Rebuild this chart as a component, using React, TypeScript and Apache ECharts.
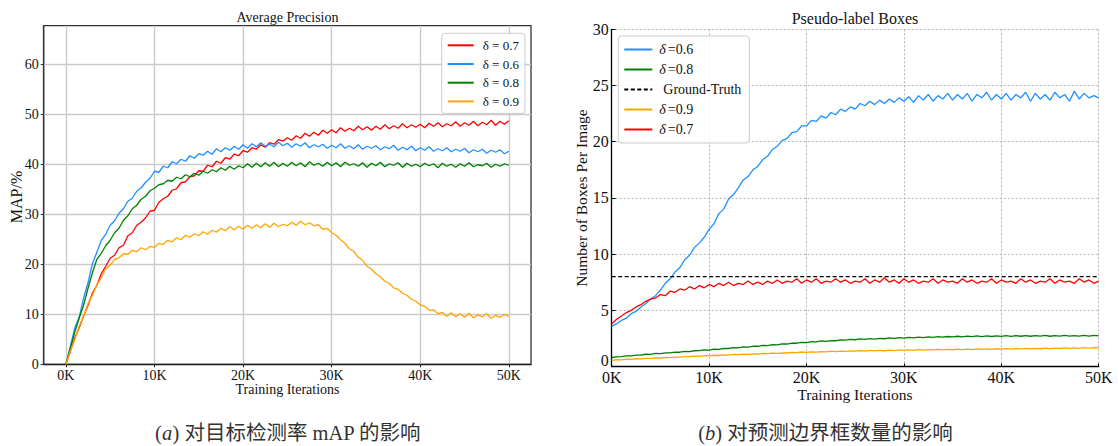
import { useEffect, useRef } from 'react';
import * as echarts from 'echarts';

// Training iterations (thousands)
const ITER = [
  0, 0.5, 1, 1.5, 2, 2.5, 3, 3.5, 4, 4.5,
  5, 5.5, 6, 6.5, 7, 7.5, 8, 8.5, 9, 9.5,
  10, 10.5, 11, 11.5, 12, 12.5, 13, 13.5, 14, 14.5,
  15, 15.5, 16, 16.5, 17, 17.5, 18, 18.5, 19, 19.5,
  20, 20.5, 21, 21.5, 22, 22.5, 23, 23.5, 24, 24.5,
  25, 25.5, 26, 26.5, 27, 27.5, 28, 28.5, 29, 29.5,
  30, 30.5, 31, 31.5, 32, 32.5, 33, 33.5, 34, 34.5,
  35, 35.5, 36, 36.5, 37, 37.5, 38, 38.5, 39, 39.5,
  40, 40.5, 41, 41.5, 42, 42.5, 43, 43.5, 44, 44.5,
  45, 45.5, 46, 46.5, 47, 47.5, 48, 48.5, 49, 49.5,
  50,
];

// (a) Average precision (MAP %)
const AP_07 = [
  0, 2.5, 5.2, 7.3, 9.6, 11.8, 14.2, 15.8, 18.1, 19.6,
  21.2, 21.8, 23.3, 23.8, 25.7, 26.3, 27.8, 28.4, 29.3, 30.6,
  30.8, 32.4, 33.1, 33.6, 34.8, 35.1, 36.3, 36.5, 37.5, 37.7,
  38.7, 38.6, 39.8, 39.5, 40.6, 40.2, 41.3, 41.0, 42.0, 41.7,
  42.7, 42.4, 43.3, 43.0, 43.9, 43.4, 44.3, 44.0, 44.9, 44.6,
  45.3, 44.8, 45.7, 45.2, 46.2, 45.6, 46.4, 45.8, 46.8, 46.2,
  46.9, 46.3, 47.3, 46.6, 47.2, 46.7, 47.6, 46.9, 47.5, 46.8,
  47.6, 47.0, 47.9, 47.1, 47.7, 47.2, 48.1, 47.3, 47.9, 47.4,
  48.0, 47.3, 48.2, 47.6, 48.3, 47.5, 48.1, 47.7, 48.5, 47.6,
  48.3, 47.8, 48.6, 47.7, 48.4, 47.9, 48.8, 47.8, 48.6, 48.0,
  48.7,
];
const AP_06 = [
  0, 3.6, 7.2, 9.4, 13.2, 16.3, 20.1, 22.4, 24.8, 26.0,
  27.8, 28.7, 30.2, 31.1, 32.6, 33.2, 34.6, 35.3, 36.4, 37.2,
  38.6, 38.4, 39.6, 39.3, 40.5, 40.1, 41.0, 40.6, 41.7, 41.2,
  42.1, 41.8, 42.6, 42.0, 43.1, 42.5, 43.3, 42.8, 43.6, 43.0,
  43.9, 43.2, 44.1, 43.5, 44.3, 43.6, 44.0, 43.5, 44.4, 43.7,
  44.2, 43.4, 44.1, 43.6, 44.3, 43.3, 43.9, 43.5, 44.0, 43.2,
  43.8, 43.3, 44.1, 43.2, 43.7, 43.1, 43.9, 43.0, 43.6, 43.2,
  43.7, 42.9, 43.5, 43.1, 43.8, 42.8, 43.4, 42.9, 43.6, 42.7,
  43.3, 42.8, 43.5, 42.6, 43.1, 42.7, 43.3, 42.5, 43.0, 42.6,
  43.2, 42.3, 42.9, 42.5, 43.0, 42.2, 42.8, 42.4, 42.9, 42.1,
  42.6,
];
const AP_08 = [
  0, 3.1, 6.4, 9.2, 11.8, 15.2, 18.3, 21.0, 22.2, 23.7,
  24.8, 26.3, 27.2, 28.8, 29.7, 31.1, 31.8, 33.0, 33.6, 34.7,
  35.2, 35.9, 36.1, 36.8, 36.6, 37.4, 37.1, 37.9, 37.5, 38.2,
  37.8, 38.6, 38.2, 38.9, 38.5, 39.3, 38.8, 39.6, 39.0, 39.7,
  39.3, 40.1, 39.4, 40.2, 39.5, 40.3, 39.6, 40.4, 39.5, 40.2,
  39.6, 40.4, 39.7, 40.3, 39.5, 40.5, 39.8, 40.2, 39.6, 40.4,
  39.7, 40.3, 39.5, 40.4, 39.8, 40.1, 39.6, 40.3, 39.4, 40.2,
  39.7, 40.4, 39.5, 40.1, 39.8, 40.3, 39.4, 40.2, 39.6, 40.0,
  39.5, 40.2, 39.7, 40.1, 39.3, 40.2, 39.6, 40.0, 39.4, 40.1,
  39.6, 40.3, 39.5, 39.9, 39.7, 40.2, 39.4, 40.0, 39.6, 40.1,
  39.8,
];
const AP_09 = [
  0, 2.6, 4.9, 7.6, 9.6, 12.1, 13.8, 15.9, 17.3, 19.1,
  19.8, 21.0, 21.3, 22.1, 22.0, 22.8, 22.5, 23.3, 22.9, 23.6,
  23.4, 24.2, 24.0, 24.8, 24.5, 25.3, 24.9, 25.8, 25.4, 26.1,
  25.7, 26.5, 26.0, 26.8, 26.4, 27.2, 26.7, 27.5, 26.9, 27.6,
  27.0, 27.8, 27.2, 27.9, 27.3, 28.1, 27.4, 28.2, 27.5, 28.0,
  27.7, 28.4, 27.8, 28.6, 27.9, 28.3, 27.7, 27.9, 27.0, 27.2,
  26.3, 25.8, 24.9, 24.2, 23.1, 22.6, 21.4, 20.8, 19.6, 19.0,
  18.1, 17.5, 16.6, 16.2, 15.3, 15.0, 14.2, 13.8, 13.0, 12.6,
  11.9, 11.6, 10.8, 10.9, 10.1, 10.4, 9.6, 10.3, 9.5, 10.1,
  9.4, 10.2, 9.3, 9.9, 9.5, 10.1, 9.2, 9.8, 9.4, 10.0,
  9.6,
];

// (b) Pseudo-label boxes per image
const BOX_06 = [
  3.6, 3.8, 4.1, 4.3, 4.7, 4.9, 5.3, 5.6, 6.0, 6.3,
  6.8, 7.4, 7.8, 8.4, 8.8, 9.5, 9.9, 10.6, 11.0, 11.5,
  12.2, 12.7, 13.6, 14.0, 14.9, 15.3, 15.9, 16.6, 16.9, 17.5,
  17.8, 18.4, 18.7, 19.3, 19.6, 20.1, 20.3, 20.8, 20.9, 21.4,
  21.4, 21.9, 21.8, 22.3, 22.1, 22.6, 22.4, 22.9, 22.7, 23.1,
  22.9, 23.4, 23.2, 23.6, 23.3, 23.7, 23.4, 23.8, 23.5, 23.9,
  23.6, 24.0, 23.5, 24.1, 23.7, 24.2, 23.6, 24.1, 23.8, 24.3,
  23.7, 24.2, 23.8, 24.3, 23.6, 24.2, 23.9, 24.4, 23.7, 24.2,
  23.8, 24.3, 23.7, 24.2, 23.9, 24.4, 23.6, 24.3, 23.8, 24.2,
  23.7, 24.4, 23.9, 24.2, 23.6, 24.5, 23.8, 24.3, 23.9, 24.1,
  23.9,
];
const BOX_08 = [
  0.80, 0.86, 0.87, 0.94, 0.95, 1.02, 1.01, 1.09, 1.08, 1.16,
  1.14, 1.22, 1.21, 1.28, 1.27, 1.34, 1.33, 1.40, 1.41, 1.47,
  1.46, 1.54, 1.53, 1.60, 1.60, 1.67, 1.66, 1.74, 1.73, 1.80,
  1.80, 1.87, 1.86, 1.94, 1.93, 2.01, 2.00, 2.08, 2.07, 2.15,
  2.13, 2.21, 2.19, 2.27, 2.24, 2.31, 2.29, 2.37, 2.34, 2.41,
  2.38, 2.45, 2.41, 2.48, 2.44, 2.51, 2.47, 2.54, 2.50, 2.57,
  2.53, 2.59, 2.55, 2.61, 2.57, 2.64, 2.59, 2.65, 2.61, 2.67,
  2.63, 2.69, 2.64, 2.70, 2.65, 2.72, 2.66, 2.72, 2.67, 2.73,
  2.68, 2.74, 2.68, 2.74, 2.69, 2.75, 2.69, 2.74, 2.70, 2.76,
  2.69, 2.75, 2.70, 2.76, 2.70, 2.75, 2.71, 2.77, 2.70, 2.76,
  2.72,
];
const BOX_09 = [
  0.55, 0.60, 0.59, 0.65, 0.64, 0.69, 0.68, 0.73, 0.72, 0.77,
  0.75, 0.80, 0.79, 0.84, 0.83, 0.88, 0.87, 0.92, 0.91, 0.96,
  0.95, 1.00, 0.98, 1.03, 1.01, 1.07, 1.05, 1.10, 1.08, 1.13,
  1.11, 1.16, 1.14, 1.19, 1.17, 1.22, 1.20, 1.26, 1.23, 1.29,
  1.26, 1.31, 1.28, 1.33, 1.30, 1.36, 1.32, 1.37, 1.34, 1.39,
  1.36, 1.41, 1.37, 1.43, 1.39, 1.44, 1.40, 1.46, 1.42, 1.47,
  1.43, 1.48, 1.44, 1.50, 1.46, 1.51, 1.47, 1.52, 1.48, 1.53,
  1.49, 1.54, 1.50, 1.55, 1.51, 1.56, 1.52, 1.57, 1.53, 1.58,
  1.54, 1.59, 1.55, 1.60, 1.56, 1.61, 1.57, 1.62, 1.58, 1.63,
  1.59, 1.64, 1.60, 1.65, 1.61, 1.66, 1.62, 1.67, 1.63, 1.68,
  1.65,
];
const BOX_07 = [
  3.8, 4.2, 4.5, 4.8, 5.0, 5.3, 5.5, 5.8, 6.0, 6.1,
  6.4, 6.3, 6.7, 6.6, 6.9, 6.8, 7.1, 6.9, 7.2, 7.0,
  7.3, 7.1, 7.4, 7.2, 7.5, 7.2, 7.4, 7.3, 7.6, 7.3,
  7.5, 7.3, 7.6, 7.4, 7.7, 7.4, 7.6, 7.5, 7.8, 7.4,
  7.7, 7.5, 7.8, 7.4, 7.6, 7.5, 7.8, 7.5, 7.7, 7.4,
  7.6, 7.5, 7.8, 7.4, 7.7, 7.5, 7.9, 7.5, 7.7, 7.4,
  7.8, 7.5, 7.7, 7.4, 7.6, 7.5, 7.8, 7.4, 7.7, 7.5,
  7.6, 7.4, 7.8, 7.5, 7.7, 7.4, 7.6, 7.5, 7.8, 7.4,
  7.7, 7.5, 7.6, 7.4, 7.8, 7.5, 7.7, 7.4, 7.6, 7.5,
  7.8, 7.4, 7.7, 7.5, 7.6, 7.4, 7.8, 7.5, 7.7, 7.4,
  7.6,
];
const GT_ITER = [0, 50];
const GT_VALUE = [8, 8];

const X_TICKS = [0, 10, 20, 30, 40, 50];
const AP_TICKS = [0, 10, 20, 30, 40, 50, 60];
const BOX_TICKS = [0, 5, 10, 15, 20, 25, 30];

const RED = '#ff0000';
const BLUE = '#1e90ff';
const GREEN = '#008000';
const ORANGE = '#ffa500';

const SERIF = '"Liberation Serif", "Times New Roman", serif';
const CAPTION_FONT = '"Liberation Serif", "Noto Sans CJK SC", serif';

const pairs = (xs: number[], ys: number[]) => xs.map((x, i) => [x, ys[i]]);

export default function App() {
  const ref = useRef<HTMLDivElement>(null);

  useEffect(() => {
    if (!ref.current) return;
    const chart = echarts.init(ref.current, undefined, { renderer: 'svg' });

    const lineSeries = (name: string, xi: number, data: number[][], color: string, extra: any = {}) => ({
      name,
      type: 'line',
      xAxisIndex: xi,
      yAxisIndex: xi,
      data,
      showSymbol: false,
      symbol: 'none',
      lineStyle: { color, width: 1.3, ...(extra.lineStyle || {}) },
      itemStyle: { color, opacity: 0 },
      emphasis: { disabled: true },
      silent: true,
    });

    const txt = (text: string, x: number, y: number, size: number, rot = 0, extra: any = {}) => ({
      type: 'text',
      x,
      y,
      rotation: rot,
      silent: true,
      style: {
        text,
        fontSize: size,
        fontFamily: SERIF,
        fill: '#111',
        textAlign: 'center',
        textVerticalAlign: 'middle',
        ...extra,
      },
    });

    const caption = (letter: string, rest: string, x: number) => ({
      type: 'text', x, y: 433, silent: true,
      style: {
        text: `({i|${letter}}) ${rest}`,
        fontSize: 20.5, fontFamily: CAPTION_FONT, fill: '#333',
        textAlign: 'center', textVerticalAlign: 'middle',
        rich: { i: { fontSize: 20.5, fontFamily: SERIF, fontStyle: 'italic', fill: '#333', color: '#333' } },
      },
    });

    const option: any = {
      animation: false,
      backgroundColor: '#ffffff',
      grid: [
        { left: 43.7, top: 25.7, width: 487.3, height: 338.6, show: true, borderColor: '#333', borderWidth: 1.3, backgroundColor: 'transparent' },
        { left: 611.7, top: 29.3, width: 487, height: 337.2, show: false },
      ],
      xAxis: [
        {
          type: 'value', gridIndex: 0, min: -2.5, max: 52.5,
          axisLine: { show: true, onZero: false, lineStyle: { color: '#222', width: 1.3 } },
          axisTick: { show: true, customValues: X_TICKS, length: 3, lineStyle: { color: '#222' } },
          axisLabel: { customValues: X_TICKS, formatter: (v: number) => `${v}K`, margin: 4, color: '#111', fontSize: 14, fontFamily: SERIF },
          splitLine: { show: true, lineStyle: { color: '#cacaca', width: 1.4 } },
        },
        {
          type: 'value', gridIndex: 1, min: 0, max: 50,
          axisLine: { show: true, onZero: false, lineStyle: { color: '#000', width: 1.3 } },
          axisTick: { show: true, inside: true, customValues: X_TICKS, length: 3, lineStyle: { color: '#000' } },
          axisLabel: { customValues: X_TICKS, formatter: (v: number) => `${v}K`, margin: 3, color: '#111', fontSize: 16, fontFamily: SERIF },
          splitLine: { show: true, lineStyle: { color: '#b4b4b4', width: 1, type: [2, 2] } },
        },
      ],
      yAxis: [
        {
          type: 'value', gridIndex: 0, min: 0, max: 67.7,
          axisLine: { show: true, onZero: false, lineStyle: { color: '#333', width: 1.3 } },
          axisTick: { show: true, customValues: AP_TICKS, length: 3, lineStyle: { color: '#333' } },
          axisLabel: { customValues: AP_TICKS, margin: 5, color: '#111', fontSize: 14, fontFamily: SERIF },
          splitLine: { show: true, lineStyle: { color: '#cacaca', width: 1.4 } },
        },
        {
          type: 'value', gridIndex: 1, min: 0, max: 30,
          axisLine: { show: true, onZero: false, lineStyle: { color: '#000', width: 1.3 } },
          axisTick: { show: true, inside: true, customValues: BOX_TICKS, length: 4, lineStyle: { color: '#000' } },
          axisLabel: {
            customValues: BOX_TICKS, margin: 3, color: '#111', fontSize: 16, fontFamily: SERIF,
            formatter: (v: number) => (v === 0 ? '{z|0}' : `${v}`),
            rich: { z: { fontSize: 16, fontFamily: SERIF, color: '#111', padding: [0, 0, 12, 0] } },
          },
          splitLine: { show: true, lineStyle: { color: '#b4b4b4', width: 1, type: [2, 2] } },
        },
      ],
      legend: [
        {
          orient: 'vertical', left: 441.7, top: 33.3, padding: [5, 6, 5, 5],
          itemWidth: 26, itemHeight: 10, itemGap: 4.7, selectedMode: false,
          itemStyle: { opacity: 0 },
          data: ['δ = 0.7', 'δ = 0.6', 'δ = 0.8', 'δ = 0.9'],
          textStyle: { fontFamily: SERIF, fontSize: 13, lineHeight: 14, color: '#111', padding: [0, 0, 0, 4] },
          backgroundColor: 'rgba(255,255,255,0.85)', borderColor: '#cccccc', borderWidth: 1, borderRadius: 3,
        },
        {
          orient: 'vertical', left: 618.3, top: 36, padding: [6, 8, 6, 5],
          itemWidth: 28, itemHeight: 10, itemGap: 5, selectedMode: false,
          itemStyle: { opacity: 0 },
          data: ['δ =0.6', 'δ =0.8', 'Ground-Truth', 'δ =0.9', 'δ =0.7'],
          formatter: (n: string) => (n.startsWith('δ') ? `{i|δ}{t|${n.slice(1).trim()}}` : `{g|${n}}`),
          textStyle: {
            fontFamily: SERIF, fontSize: 14, lineHeight: 15, color: '#111',
            rich: {
              i: { fontFamily: SERIF, fontSize: 14, lineHeight: 15, fontStyle: 'italic', color: '#111', padding: [0, 0, 0, 2] },
              t: { fontFamily: SERIF, fontSize: 14, lineHeight: 15, color: '#111', padding: [0, 0, 0, 2] },
              g: { fontFamily: SERIF, fontSize: 14, lineHeight: 15, color: '#111', padding: [0, 0, 0, 6] },
            },
          },
          backgroundColor: 'rgba(255,255,255,0.85)', borderColor: '#cccccc', borderWidth: 1, borderRadius: 3,
        },
      ],
      series: [
        lineSeries('δ = 0.7', 0, pairs(ITER, AP_07), RED),
        lineSeries('δ = 0.6', 0, pairs(ITER, AP_06), BLUE),
        lineSeries('δ = 0.8', 0, pairs(ITER, AP_08), GREEN),
        lineSeries('δ = 0.9', 0, pairs(ITER, AP_09), ORANGE),
        lineSeries('δ =0.6', 1, pairs(ITER, BOX_06), BLUE),
        lineSeries('δ =0.8', 1, pairs(ITER, BOX_08), GREEN),
        lineSeries('Ground-Truth', 1, pairs(GT_ITER, GT_VALUE), '#000', { lineStyle: { type: [4, 2.5], width: 1.1 } }),
        lineSeries('δ =0.9', 1, pairs(ITER, BOX_09), ORANGE),
        lineSeries('δ =0.7', 1, pairs(ITER, BOX_07), RED),
      ],
      graphic: [
        txt('Average Precision', 287.5, 17, 14),
        txt('Pseudo-label Boxes', 855, 18, 16),
        txt('Training Iterations', 287.5, 389.5, 14),
        txt('Training Iterations', 855, 394, 15.5),
        txt('MAP/%', 16, 197, 16, Math.PI / 2),
        txt('Number of Boxes Per Image', 581, 198, 15.5, Math.PI / 2),
        caption('a', '对目标检测率 mAP 的影响', 288),
        caption('b', '对预测边界框数量的影响', 825.5),
      ],
    };

    chart.setOption(option);
    return () => chart.dispose();
  }, []);

  return (
    <div
      ref={ref}
      style={{ position: 'absolute', left: 0, top: 0, width: 1118, height: 446, background: '#fff' }}
    />
  );
}
